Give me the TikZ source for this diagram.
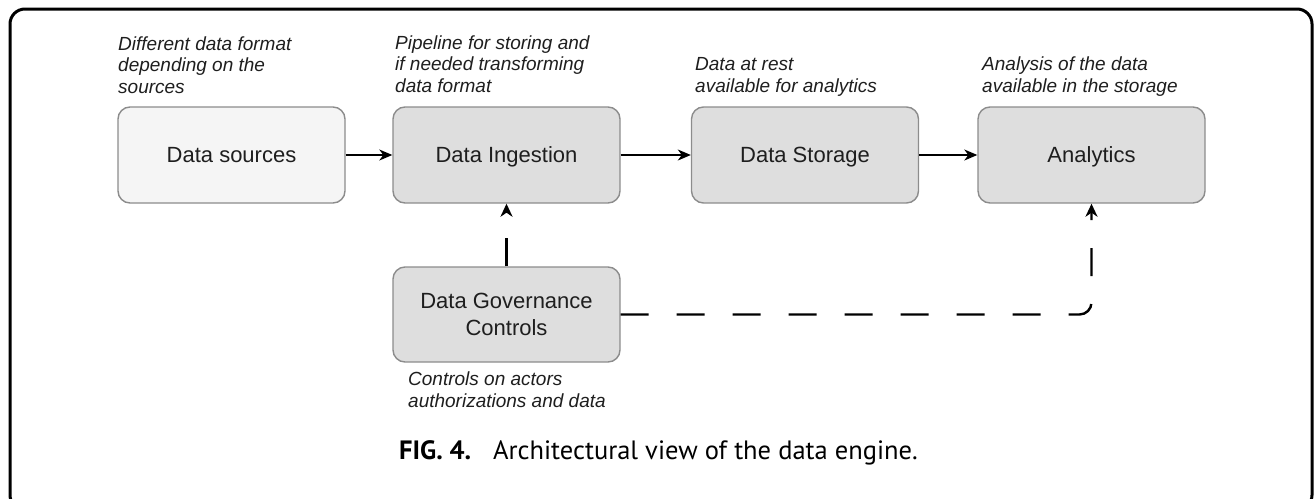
\documentclass[tikz,border=0pt]{standalone}
\usepackage{fontspec}
\setmainfont{Liberation Sans}
\newfontfamily\capfont{PT Sans}
\usetikzlibrary{arrows.meta}
\definecolor{boxfill}{HTML}{DEDEDE}
\definecolor{srcfill}{HTML}{F5F5F5}
\definecolor{boxline}{HTML}{8C8C8C}
\definecolor{txt}{HTML}{1E1E1E}
\tikzset{
  box/.style={draw=boxline, line width=1.4pt, rounded corners=12pt, fill=boxfill,
    minimum width=227pt, minimum height=96pt, inner sep=0pt, text=txt,
    font=\fontsize{22}{27}\selectfont},
  oneline/.style={text height=15.8pt, text depth=0pt},
  note/.style={anchor=base west, inner sep=0pt, align=left, text=txt,
    font=\fontsize{19}{21.5}\selectfont\itshape},
  flow/.style={line width=1.5pt, -{Stealth[length=13pt, width=11pt, inset=4pt]}},
  gov/.style={line width=2.4pt, dash pattern=on 28pt off 28pt,
    -{Stealth[length=13pt, width=12pt, inset=4pt]}}
}
\begin{document}
\begin{tikzpicture}[x=1pt, y=-1pt]
\useasboundingbox (0,0) rectangle (1314,498);
\begin{scope}
\clip (0,0) rectangle (1314,498);
\draw[line width=3pt, rounded corners=15pt] (10,9) rectangle (1312,510);
\end{scope}

\node[box, oneline, fill=srcfill] (src) at (231.5,155) {Data sources};
\node[box, oneline] (ing) at (506.5,155) {Data Ingestion};
\node[box, oneline] (sto) at (805,155) {Data Storage};
\node[box, oneline] (ana) at (1091.5,155) {Analytics};
\node[box, align=center, minimum height=95pt] (gov) at (506.5,314.5) {Data Governance\\Controls};

\node[note] (n1) at (118,93) {Different data format\\depending on the\\sources};
\node[note] (n2) at (395,92) {Pipeline for storing and\\if needed transforming\\data format};
\node[note] (n3) at (695,92) {Data at rest\\available for analytics};
\node[note] (n4) at (982,92) {Analysis of the data\\available in the storage};
\node[note] (n5) at (408,407) {Controls on actors\\authorizations and data};

\draw[flow] (src) -- (ing);
\draw[flow] (ing) -- (sto);
\draw[flow] (sto) -- (ana);
\draw[gov] (gov) -- (ing);
\draw[gov, rounded corners=12pt] (gov.east) -- (ana.south |- gov.east) -- (ana.south);

\node[anchor=base west, inner sep=0pt, text=black, font=\capfont\fontsize{26.5}{30}\selectfont] (cap) at (399,459)
  {\textbf{FIG. 4.}\hspace{22pt}Architectural view of the data engine.};
\end{tikzpicture}
\end{document}
